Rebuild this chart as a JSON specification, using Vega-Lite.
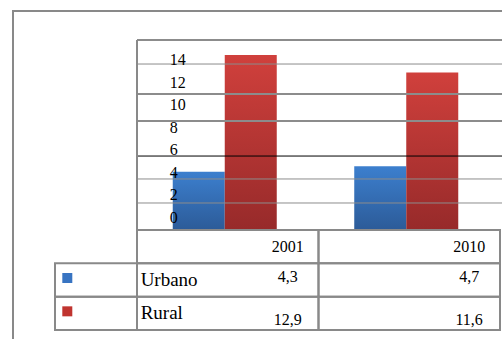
{
  "$schema": "https://vega.github.io/schema/vega-lite/v6.json",
  "width": 495,
  "height": 335,
  "autosize": {"type": "none"},
  "padding": {"left": 13, "top": 11, "right": -6, "bottom": -7},
  "config": {
    "view": {"stroke": "#898989", "strokeWidth": 2},
    "font": "Liberation Serif",
    "locale": {"number": {"decimal": ",", "thousands": ".", "grouping": [3], "currency": ["", " €"]}}
  },
  "datasets": {
    "datos": [
      {"serie": "Urbano", "anio": "2001", "valor": 4.3},
      {"serie": "Urbano", "anio": "2010", "valor": 4.7},
      {"serie": "Rural", "anio": "2001", "valor": 12.9},
      {"serie": "Rural", "anio": "2010", "valor": 11.6}
    ],
    "rejilla": [
      {"y": 14, "tipo": "borde"},
      {"y": 12.23, "tipo": "fina"},
      {"y": 10.02, "tipo": "gruesa"},
      {"y": 8.03, "tipo": "gruesa"},
      {"y": 5.45, "tipo": "eje"},
      {"y": 3.76, "tipo": "fina"},
      {"y": 1.99, "tipo": "fina"}
    ],
    "marcas": [
      {"v": 0}, {"v": 2}, {"v": 4}, {"v": 6}, {"v": 8}, {"v": 10}, {"v": 12}, {"v": 14}
    ]
  },
  "layer": [
    {
      "data": {"name": "datos"},
      "encoding": {
        "x": {"field": "anio", "type": "nominal", "scale": {"domain": ["2001", "2010"], "range": [121, 484], "paddingInner": 0, "paddingOuter": 0}, "axis": null},
        "xOffset": {"field": "serie", "type": "nominal", "scale": {"domain": ["Urbano", "Rural"], "paddingInner": 0, "paddingOuter": 0.745}},
        "y": {"field": "valor", "type": "quantitative", "scale": {"domain": [0, 14], "range": [219, 29], "nice": false, "zero": false}, "axis": null}
      },
      "layer": [
        {
          "transform": [{"filter": "datum.serie === 'Urbano'"}],
          "mark": {"type": "bar", "color": {"gradient": "linear", "x1": 0, "y1": 0, "x2": 0, "y2": 1, "stops": [{"offset": 0, "color": "#3c7fce"}, {"offset": 1, "color": "#2c5b98"}]}}
        },
        {
          "transform": [{"filter": "datum.serie === 'Rural'"}],
          "mark": {"type": "bar", "color": {"gradient": "linear", "x1": 0, "y1": 0, "x2": 0, "y2": 1, "stops": [{"offset": 0, "color": "#d0403c"}, {"offset": 1, "color": "#972a2a"}]}}
        }
      ]
    },
    {
      "data": {"name": "rejilla"},
      "encoding": {
        "x": {"datum": 0, "type": "quantitative", "scale": {"domain": [0, 1], "range": [124, 489], "nice": false, "zero": false}, "axis": null},
        "x2": {"datum": 1},
        "y": {"field": "y", "type": "quantitative", "scale": {"domain": [0, 14], "range": [219, 29], "nice": false, "zero": false}, "axis": null}
      },
      "layer": [
        {"transform": [{"filter": "datum.tipo === 'fina'"}], "mark": {"type": "rule", "color": "#8c8c8c", "strokeWidth": 1}},
        {"transform": [{"filter": "datum.tipo === 'gruesa' || datum.tipo === 'borde'"}], "mark": {"type": "rule", "color": "#8c8c8c", "strokeWidth": 2}},
        {"transform": [{"filter": "datum.tipo === 'eje'"}], "mark": {"type": "rule", "color": "#000000", "strokeWidth": 1}},
        {
          "transform": [{"filter": "datum.tipo === 'borde'"}],
          "mark": {"type": "rule", "color": "#898989", "strokeWidth": 2},
          "encoding": {"x": {"datum": 0, "type": "quantitative"}, "x2": null, "y": {"datum": 14, "type": "quantitative"}, "y2": {"datum": 0}}
        }
      ]
    },
    {
      "data": {"name": "datos"},
      "encoding": {
        "x": {"field": "anio", "type": "nominal", "scale": {"domain": ["2001", "2010"], "range": [124, 487], "paddingInner": 0, "paddingOuter": 0}, "axis": null},
        "y": {"field": "serie", "type": "nominal", "scale": {"domain": ["hdr", "Urbano", "Rural"], "range": [219, 319], "paddingInner": 0, "paddingOuter": 0}, "axis": null}
      },
      "layer": [
        {"mark": {"type": "rect", "fill": "transparent", "stroke": "#898989", "strokeWidth": 2}},
        {
          "transform": [{"filter": "datum.serie === 'Urbano'"}],
          "mark": {"type": "rect", "fill": "transparent", "stroke": "#898989", "strokeWidth": 2},
          "encoding": {"y": {"datum": "hdr", "type": "nominal"}}
        },
        {
          "transform": [{"filter": "datum.serie === 'Urbano'"}],
          "mark": {"type": "text", "align": "center", "baseline": "middle", "fontSize": 16, "color": "#000000"},
          "encoding": {
            "x": {"field": "anio", "type": "nominal", "bandPosition": 0.83},
            "y": {"datum": "hdr", "type": "nominal", "bandPosition": 0.5},
            "text": {"field": "anio", "type": "nominal"}
          }
        },
        {
          "transform": [{"filter": "datum.serie === 'Urbano'"}],
          "mark": {"type": "text", "align": "center", "baseline": "middle", "fontSize": 16, "color": "#000000"},
          "encoding": {
            "x": {"field": "anio", "type": "nominal", "bandPosition": 0.83},
            "y": {"field": "serie", "type": "nominal", "bandPosition": 0.42},
            "text": {"field": "valor", "type": "quantitative", "format": ".1f"}
          }
        },
        {
          "transform": [{"filter": "datum.serie === 'Rural'"}],
          "mark": {"type": "text", "align": "center", "baseline": "middle", "fontSize": 16, "color": "#000000"},
          "encoding": {
            "x": {"field": "anio", "type": "nominal", "bandPosition": 0.83},
            "y": {"field": "serie", "type": "nominal", "bandPosition": 0.71},
            "text": {"field": "valor", "type": "quantitative", "format": ".1f"}
          }
        },
        {
          "transform": [{"filter": "datum.anio === '2001'"}],
          "mark": {"type": "text", "align": "left", "baseline": "middle", "fontSize": 19, "color": "#000000"},
          "encoding": {
            "x": {"field": "anio", "type": "nominal", "bandPosition": 0.02},
            "y": {"field": "serie", "type": "nominal", "bandPosition": 0.5},
            "text": {"field": "serie", "type": "nominal"}
          }
        }
      ]
    },
    {
      "data": {"name": "datos"},
      "transform": [{"filter": "datum.anio === '2001'"}],
      "encoding": {
        "x": {"datum": "leyenda", "type": "nominal", "scale": {"domain": ["leyenda"], "range": [42, 124], "paddingInner": 0, "paddingOuter": 0}, "axis": null},
        "y": {"field": "serie", "type": "nominal", "scale": {"domain": ["hdr", "Urbano", "Rural"], "range": [219, 319], "paddingInner": 0, "paddingOuter": 0}, "axis": null}
      },
      "layer": [
        {"mark": {"type": "rect", "fill": "transparent", "stroke": "#898989", "strokeWidth": 2}},
        {
          "mark": {"type": "point", "shape": "square", "filled": true, "size": 100, "opacity": 1},
          "encoding": {
            "x": {"datum": "leyenda", "type": "nominal", "bandPosition": 0.15},
            "y": {"field": "serie", "type": "nominal", "bandPosition": 0.44},
            "color": {"field": "serie", "type": "nominal", "scale": {"domain": ["Urbano", "Rural"], "range": ["#3874c2", "#c0342f"]}, "legend": null}
          }
        }
      ]
    },
    {
      "data": {"name": "marcas"},
      "mark": {"type": "text", "align": "left", "baseline": "middle", "fontSize": 16, "color": "#000000"},
      "encoding": {
        "x": {"datum": 0.18, "type": "quantitative", "scale": {"domain": [0, 1], "range": [124, 305.5], "nice": false, "zero": false}, "axis": null},
        "y": {"field": "v", "type": "quantitative", "scale": {"domain": [0, 14], "range": [206.7, 49.1], "nice": false, "zero": false}, "axis": null},
        "text": {"field": "v", "type": "quantitative"}
      }
    }
  ],
  "resolve": {"scale": {"x": "independent", "y": "independent", "xOffset": "independent", "color": "independent"}}
}
